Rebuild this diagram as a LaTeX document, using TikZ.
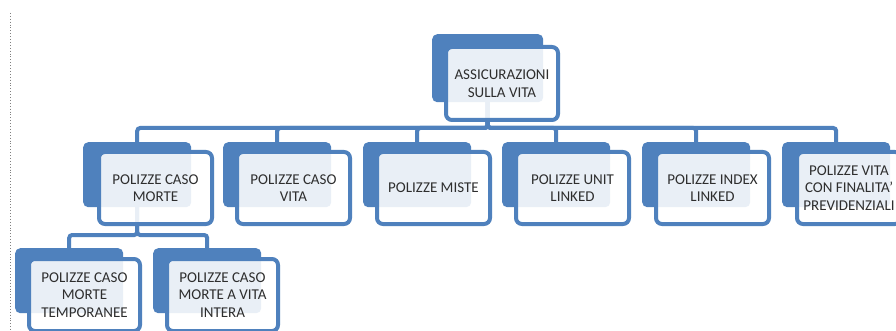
\documentclass[tikz,border=0pt]{standalone}
\usepackage{fontspec}
\setmainfont{Carlito}
\definecolor{ob}{HTML}{4F81BD}
\definecolor{tx}{HTML}{2E2E2E}
\tikzset{
  backbox/.style={fill=ob, draw=none, rounded corners=5pt, minimum width=108pt, minimum height=65pt, anchor=north west, inner sep=0pt},
  frontbox/.style={fill=white, fill opacity=0.88, text opacity=1, draw=ob, line width=4pt, rounded corners=6pt, minimum width=113pt, minimum height=72pt, anchor=north west, align=center, font=\fontsize{15}{17.5}\selectfont, text=tx, inner sep=0pt},
  conn/.style={draw=ob, line width=4pt, rounded corners=3pt},
}
\begin{document}
\begin{tikzpicture}[x=1pt,y=-1pt]
\useasboundingbox (0,0) rectangle (896,331);
\fill[white] (0,0) rectangle (896,331);
\draw[gray, dotted, line width=0.9pt] (10,13) -- (10,331);
% back boxes
\node[backbox, minimum width=111pt, minimum height=68pt] (tb) at (432,34) {};
\node[backbox] (b1) at (83,142) {};
\node[backbox] (b2) at (223,142) {};
\node[backbox] (b3) at (363,142) {};
\node[backbox] (b4) at (502,142) {};
\node[backbox] (b5) at (642,142) {};
\node[backbox] (b6) at (782,142) {};
\node[backbox] (b7) at (15,248) {};
\node[backbox] (b8) at (153,248) {};
% connectors
\coordinate (bus1) at (0,128);
\coordinate (bus2) at (0,235);
\foreach \c in {b1,b2,b3,b4,b5,b6}{
  \draw[conn] (tb.center) -- (tb.center |- bus1) -| (\c.north);
}
\foreach \c in {b7,b8}{
  \draw[conn] (b1.center) -- (b1.center |- bus2) -| (\c.north);
}
% front boxes
\node[frontbox, minimum width=112pt, minimum height=73pt] (tf) at (444,45) {ASSICURAZIONI\\SULLA VITA};
\node[frontbox] (f1) at (97,150) {POLIZZE CASO\\MORTE};
\node[frontbox] (f2) at (235,150) {POLIZZE CASO\\VITA};
\node[frontbox] (f3) at (375,150) {POLIZZE MISTE};
\node[frontbox] (f4) at (514,150) {POLIZZE UNIT\\LINKED};
\node[frontbox] (f5) at (654,150) {POLIZZE INDEX\\LINKED};
\node[frontbox, minimum width=104pt] (f6) at (795,150) {POLIZZE VITA\\CON FINALITA'\\PREVIDENZIALI};
\node[frontbox, minimum width=111pt] (f7) at (27,257) {POLIZZE CASO\\MORTE\\TEMPORANEE};
\node[frontbox, minimum width=111pt] (f8) at (165,257) {POLIZZE CASO\\MORTE A VITA\\INTERA};
\end{tikzpicture}
\end{document}
